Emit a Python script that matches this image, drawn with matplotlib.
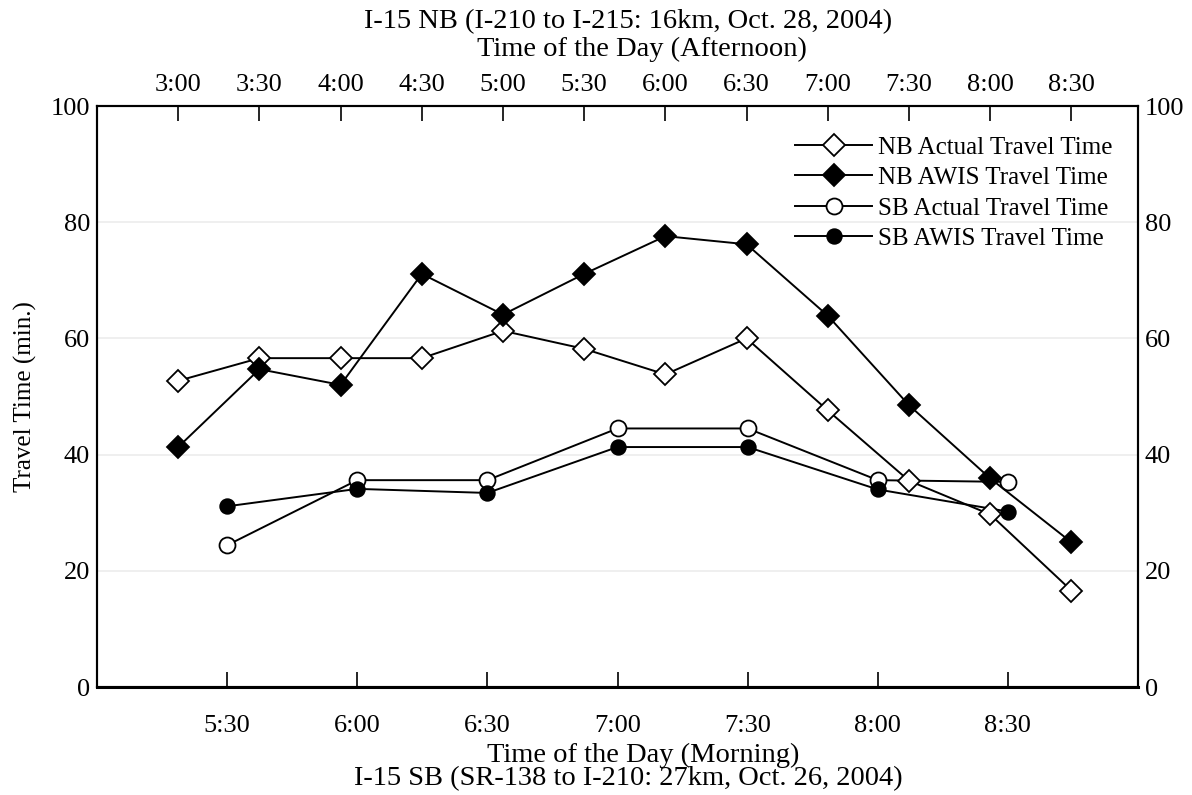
import matplotlib
matplotlib.use("Agg")
import matplotlib.pyplot as plt

plt.rcParams['font.family'] = ['Liberation Serif', 'DejaVu Serif']

# Northbound, afternoon (top axis), hours
nb_times = [3.0, 3.5, 4.0, 4.5, 5.0, 5.5, 6.0, 6.5, 7.0, 7.5, 8.0, 8.5]
nb_labels = ["3:00", "3:30", "4:00", "4:30", "5:00", "5:30",
             "6:00", "6:30", "7:00", "7:30", "8:00", "8:30"]
nb_actual = [52.7, 56.6, 56.6, 56.6, 61.3, 58.2, 53.8, 60.0, 47.6, 35.5, 29.7, 16.6]
nb_awis = [41.3, 54.7, 52.0, 71.1, 64.1, 71.1, 77.6, 76.2, 63.9, 48.5, 35.9, 24.9]

# Southbound, morning (bottom axis), hours
sb_times = [5.5, 6.0, 6.5, 7.0, 7.5, 8.0, 8.5]
sb_labels = ["5:30", "6:00", "6:30", "7:00", "7:30", "8:00", "8:30"]
sb_actual = [24.4, 35.6, 35.6, 44.5, 44.5, 35.6, 35.3]
sb_awis = [31.1, 34.1, 33.4, 41.3, 41.3, 34.0, 30.2]

y_ticks = [0, 20, 40, 60, 80, 100]

fs_tick = 19
fs_title = 20.5
fig = plt.figure(figsize=(11.92, 7.95), dpi=100)
ax = fig.add_axes([97 / 1192, 108 / 795, 1041 / 1192, 581 / 795])
ax_top = ax.twiny()

line_kw = dict(color='black', lw=1.4, mew=1.3, mec='black')
h1, = ax_top.plot(nb_times, nb_actual, marker='D', ms=11, mfc='white',
                  label='NB Actual Travel Time', **line_kw)
h2, = ax_top.plot(nb_times, nb_awis, marker='D', ms=11, mfc='black',
                  label='NB AWIS Travel Time', **line_kw)
h3, = ax.plot(sb_times, sb_actual, marker='o', ms=11.5, mfc='white',
              label='SB Actual Travel Time', **line_kw)
h4, = ax.plot(sb_times, sb_awis, marker='o', ms=10.5, mfc='black',
              label='SB AWIS Travel Time', **line_kw)

ax.set_xlim(5.0, 9.0)
ax_top.set_xlim(2.5, 8.91)
ax.set_ylim(0, 100)

ax.set_yticks(y_ticks)
ax.tick_params(axis='y', left=False, right=False, length=0, labelleft=True,
               labelright=True, labelsize=fs_tick, pad=5)
for yv in y_ticks[1:-1]:
    ax.axhline(yv, color='#ececec', lw=1.2, zorder=0)

ax.set_xticks(sb_times)
ax.set_xticklabels(sb_labels)
ax.tick_params(axis='x', direction='in', length=11, width=1.2,
               labelsize=fs_tick, pad=20)
ax_top.set_xticks(nb_times)
ax_top.set_xticklabels(nb_labels)
ax_top.tick_params(axis='x', direction='in', length=11, width=1.2,
                   labelsize=fs_tick, pad=7)

for a in (ax, ax_top):
    for s in a.spines.values():
        s.set_linewidth(1.5)
ax.spines['bottom'].set_linewidth(2.2)

ax.set_ylabel('Travel Time (min.)', fontsize=18)
ax.yaxis.set_label_coords(-0.058, 0.5)

# header / footer lines (centres)
fig.text(628 / 1192, 1 - 22 / 795, 'I-15 NB (I-210 to I-215: 16km, Oct. 28, 2004)',
         ha='center', va='center', fontsize=fs_title)
fig.text(642 / 1192, 1 - 49 / 795, 'Time of the Day (Afternoon)',
         ha='center', va='center', fontsize=fs_title)
fig.text(643 / 1192, 1 - 755 / 795, 'Time of the Day (Morning)',
         ha='center', va='center', fontsize=fs_title)
fig.text(628 / 1192, 1 - 779 / 795, 'I-15 SB (SR-138 to I-210: 27km, Oct. 26, 2004)',
         ha='center', va='center', fontsize=fs_title)

ax.legend(handles=[h1, h2, h3, h4], loc='upper right',
          bbox_to_anchor=((1113 - 97) / 1041, (687 - 136) / 581),
          frameon=False, fontsize=18, handlelength=3.1, handletextpad=0.25,
          labelspacing=0.32, borderpad=0, borderaxespad=0)

fig.savefig('out.png', dpi=100)
